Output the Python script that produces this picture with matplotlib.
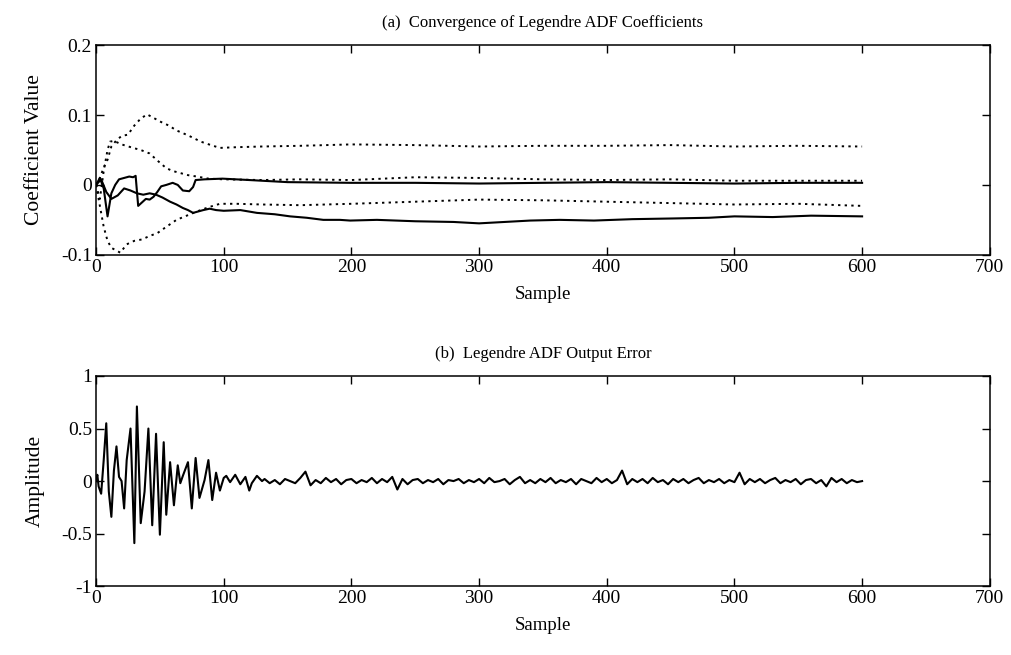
import numpy as np
import matplotlib
matplotlib.use("Agg")
import matplotlib.pyplot as plt

plt.rcParams['font.family'] = ['Liberation Serif', 'DejaVu Serif']

# ---------------- data ----------------
# (a) coefficient trajectories
c1_s = [0, 3, 6, 9, 12, 16, 20, 25, 30, 35, 40, 45, 51, 57, 63, 72, 82, 90, 97, 110, 130, 160, 200, 250, 300, 350, 400, 450, 500, 550, 600]
c1_v = [0.0, 0.01, 0.025, 0.036, 0.055, 0.064, 0.07, 0.072, 0.085, 0.095, 0.101, 0.096, 0.09, 0.085, 0.078, 0.071, 0.062, 0.057, 0.053, 0.054, 0.055, 0.056, 0.058, 0.057, 0.055, 0.056, 0.056, 0.057, 0.055, 0.056, 0.055]

c2_s = [0, 3, 6, 9, 11, 14, 20, 29, 35, 42, 48, 55, 60, 66, 72, 79, 88, 100, 130, 160, 200, 250, 300, 350, 400, 450, 500, 550, 600]
c2_v = [0.0, -0.02, 0.02, 0.05, 0.062, 0.063, 0.058, 0.053, 0.05, 0.045, 0.035, 0.024, 0.02, 0.017, 0.014, 0.012, 0.009, 0.008, 0.007, 0.008, 0.007, 0.011, 0.010, 0.008, 0.007, 0.008, 0.006, 0.006, 0.006]

c3_s = [0, 3, 6, 9, 12, 15, 19, 24, 30, 36, 42, 48, 55, 63, 71, 79, 88, 97, 110, 130, 160, 200, 250, 300, 350, 400, 450, 500, 550, 600]
c3_v = [0.0, -0.03, -0.06, -0.08, -0.09, -0.093, -0.097, -0.085, -0.08, -0.078, -0.073, -0.069, -0.06, -0.05, -0.044, -0.038, -0.032, -0.027, -0.027, -0.028, -0.029, -0.027, -0.024, -0.021, -0.022, -0.024, -0.026, -0.028, -0.027, -0.03]

c4_s = [0, 3, 6, 9, 12, 15, 18, 22, 26, 29, 31, 33, 36, 39, 42, 45, 48, 51, 55, 60, 64, 68, 73, 76, 78, 85, 99, 120, 150, 200, 250, 300, 350, 400, 450, 500, 550, 600]
c4_v = [0.0, 0.01, -0.005, -0.045, -0.012, 0.0, 0.008, 0.01, 0.012, 0.011, 0.013, -0.03, -0.025, -0.02, -0.021, -0.017, -0.01, -0.002, 0.0, 0.003, 0.0, -0.008, -0.009, -0.003, 0.007, 0.008, 0.009, 0.007, 0.004, 0.003, 0.003, 0.002, 0.003, 0.004, 0.003, 0.002, 0.003, 0.003]

c5_s = [0, 4, 8, 12, 17, 22, 27, 32, 37, 42, 47, 52, 58, 63, 68, 72, 76, 80, 84, 89, 94, 100, 113, 126, 140, 152, 165, 178, 191, 199, 220, 250, 280, 300, 320, 340, 363, 390, 420, 452, 480, 500, 530, 560, 600]
c5_v = [0, 0.008, -0.01, -0.02, -0.015, -0.005, -0.008, -0.012, -0.014, -0.012, -0.014, -0.018, -0.024, -0.028, -0.033, -0.036, -0.04, -0.038, -0.036, -0.034, -0.036, -0.037, -0.036, -0.04, -0.042, -0.045, -0.047, -0.05, -0.05, -0.051, -0.05, -0.052, -0.053, -0.055, -0.053, -0.051, -0.05, -0.051, -0.049, -0.048, -0.047, -0.045, -0.046, -0.044, -0.045]

# (b) output error
err_s_head = [0, 1, 2, 4, 6, 8, 10, 12, 14, 16, 18, 20, 22, 24, 27, 30, 32, 35, 38, 41, 44, 47, 50, 53, 55, 58, 61, 64, 66, 68, 72, 75, 78, 81, 85, 88, 91, 94, 97, 100, 102, 105, 109, 113, 117, 120, 122, 126, 130]
err_v_head = [0, 0.06, -0.05, -0.12, 0.2, 0.55, -0.1, -0.34, 0.1, 0.33, 0.04, 0.0, -0.26, 0.2, 0.5, -0.59, 0.71, -0.4, -0.1, 0.5, -0.42, 0.45, -0.51, 0.37, -0.32, 0.18, -0.23, 0.15, -0.02, 0.05, 0.18, -0.26, 0.22, -0.16, 0.01, 0.2, -0.18, 0.08, -0.09, 0.03, 0.05, -0.01, 0.06, -0.03, 0.04, -0.09, -0.02, 0.05, 0.0]
err_s_tail = list(range(132, 601, 4))
err_v_tail = [0.02, -0.02, 0.01, -0.03, 0.02, 0.0, -0.02, 0.03, 0.09, -0.04,
              0.01, -0.02, 0.03, -0.01, 0.02, -0.03, 0.01, 0.02, -0.02, 0.01,
              -0.01, 0.03, -0.02, 0.02, -0.01, 0.04, -0.08, 0.02, -0.03, 0.01,
              0.02, -0.02, 0.01, -0.01, 0.02, -0.03, 0.01, 0.0, 0.02, -0.02,
              0.01, -0.01, 0.02, -0.02, 0.03, -0.01, 0.0, 0.02, -0.03, 0.01,
              0.04, -0.02, 0.01, -0.02, 0.02, -0.01, 0.03, -0.02, 0.01, -0.01,
              0.02, -0.03, 0.02, 0.0, -0.02, 0.03, -0.01, 0.02, -0.02, 0.01,
              0.1, -0.03, 0.02, -0.01, 0.02, -0.02, 0.03, -0.01, 0.01, -0.03,
              0.02, -0.01, 0.02, -0.02, 0.01, 0.03, -0.02, 0.01, -0.01, 0.02,
              -0.02, 0.01, -0.01, 0.08, -0.03, 0.02, -0.01, 0.02, -0.02, 0.01,
              0.03, -0.02, 0.01, -0.01, 0.02, -0.03, 0.01, 0.02, -0.02, 0.01,
              -0.05, 0.03, -0.01, 0.02, -0.02, 0.01, -0.01, 0.0]

xticks = [0, 100, 200, 300, 400, 500, 600, 700]
yticks_a = [-0.1, 0, 0.1, 0.2]
yticks_a_labels = ['-0.1', '0', '0.1', '0.2']
yticks_b = [-1, -0.5, 0, 0.5, 1]
yticks_b_labels = ['-1', '-0.5', '0', '0.5', '1']

title_a = "(a)  Convergence of Legendre ADF Coefficients"
title_b = "(b)  Legendre ADF Output Error"

# ---------------- figure ----------------
fig = plt.figure(figsize=(10.11, 6.55), dpi=100)
ax1 = fig.add_axes([0.095, 0.611, 0.884, 0.320])
ax2 = fig.add_axes([0.095, 0.105, 0.884, 0.321])

FS_TITLE = 12
FS_TICK = 14
FS_XLAB = 13.5
FS_YLAB = 15.5

for s, v in [(c1_s, c1_v), (c2_s, c2_v), (c3_s, c3_v)]:
    ax1.plot(s, v, color='black', linestyle=(0, (1.2, 2.2)), linewidth=1.4)
for s, v in [(c4_s, c4_v), (c5_s, c5_v)]:
    ax1.plot(s, v, color='black', linestyle='-', linewidth=1.5)

ax2.plot(err_s_head + err_s_tail, err_v_head + err_v_tail, color='black', linewidth=1.5)

ax1.set_xlim(0, 700)
ax1.set_ylim(-0.1, 0.2)
ax1.set_yticks(yticks_a)
ax1.set_yticklabels(yticks_a_labels)
ax2.set_xlim(0, 700)
ax2.set_ylim(-1, 1)
ax2.set_yticks(yticks_b)
ax2.set_yticklabels(yticks_b_labels)

for ax, title, ylab in [(ax1, title_a, "Coefficient Value"), (ax2, title_b, "Amplitude")]:
    ax.set_xticks(xticks)
    ax.set_xticklabels([str(t) for t in xticks])
    ax.tick_params(direction='in', top=True, right=True, length=6, width=1,
                   labelsize=FS_TICK, pad=3)
    for sp in ax.spines.values():
        sp.set_linewidth(1.1)
    ax.set_title(title, fontsize=FS_TITLE, pad=13)
    ax.set_xlabel("Sample", fontsize=FS_XLAB, labelpad=7)
    ax.set_ylabel(ylab, fontsize=FS_YLAB, labelpad=12)

fig.savefig("out.png", dpi=100, facecolor='white')
